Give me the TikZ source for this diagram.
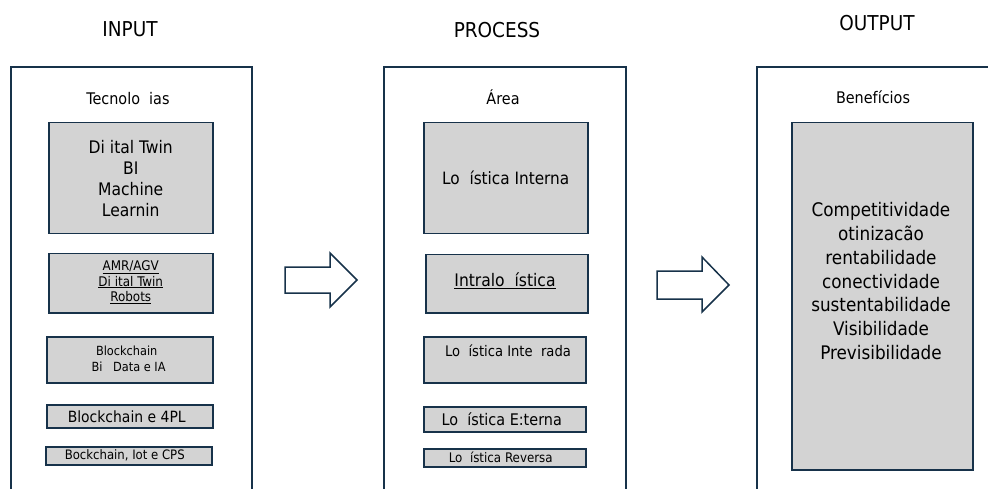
\documentclass[tikz,border=0pt]{standalone}
\usepackage{fontspec}
\setmainfont{DejaVu Sans Condensed}
\definecolor{navy}{HTML}{17324A}
\definecolor{boxgray}{HTML}{D3D3D3}
\tikzset{
  outer/.style={draw=navy, line width=1.5pt},
  gbox/.style={draw=navy, fill=boxgray, line width=1.5pt, rectangle, inner sep=0pt, align=center, anchor=north west},
  title/.style={font=\fontsize{20.5}{24}\selectfont, text=black},
  head/.style={font=\fontsize{16}{19}\selectfont, text=black},
  bigarrow/.style={draw=navy, fill=white, line width=1.5pt, line join=miter}
}
\begin{document}
\begin{tikzpicture}[x=1pt,y=-1pt]
\useasboundingbox (0,0) rectangle (988,489);
% titles
\node[title] (tin) at (130,29) {INPUT};
\node[title] (tpr) at (497,30) {PROCESS};
\node[title] (tout) at (877,23) {OUTPUT};
% outer frames (open at bottom)
\coordinate (l1) at (11,492); \coordinate (l2) at (11,67); \coordinate (l3) at (252,67); \coordinate (l4) at (252,492);
\draw[outer] (l1) -- (l2) -- (l3) -- (l4);
\coordinate (m1) at (384,492); \coordinate (m2) at (384,67); \coordinate (m3) at (626,67); \coordinate (m4) at (626,492);
\draw[outer] (m1) -- (m2) -- (m3) -- (m4);
\coordinate (r1) at (757,492); \coordinate (r2) at (757,67); \coordinate (r3) at (992,67);
\draw[outer] (r1) -- (r2) -- (r3);
% headings
\node[head] (htec) at (128,99) {Tecnolo\ \ ias};
\node[head] (hare) at (503,97) {Área};
\node[head] (hben) at (873,97) {Benefícios};
% input boxes
\node[gbox, minimum width=164pt, minimum height=111pt] (i1) at (48,122) {};
\node[font=\fontsize{17.3}{21}\selectfont, align=center] (i1t) at (i1.center) {Di\ ital Twin\\BI\\Machine\\Learnin};
\node[gbox, minimum width=164pt, minimum height=59pt] (i2) at (48,253) {};
\node[font=\fontsize{13.3}{15.5}\selectfont, align=center] (i2t) at ([yshift=1pt]i2.center) {\underline{AMR/AGV}\\\underline{Di\ ital Twin}\\\underline{Robots}};
\node[gbox, minimum width=166pt, minimum height=46pt] (i3) at (46,336) {};
\node[font=\fontsize{12.6}{16}\selectfont, align=center] (i3t) at ([xshift=-3pt,yshift=1pt]i3.center) {Blockchain\\\ Bi\ \ \ Data e IA};
\node[gbox, minimum width=166pt, minimum height=23pt] (i4) at (46,404) {};
\node[font=\fontsize{15.5}{17}\selectfont] (i4t) at ([xshift=-3pt]i4.center) {Blockchain e 4PL};
\node[gbox, minimum width=166pt, minimum height=18pt] (i5) at (45,446) {};
\node[font=\fontsize{13}{14}\selectfont] (i5t) at ([xshift=-4pt]i5.center) {Bockchain, Iot e CPS};
% process boxes
\node[gbox, minimum width=164pt, minimum height=111pt] (p1) at (423,122) {};
\node[font=\fontsize{17}{19}\selectfont] (p1t) at (p1.center) {Lo\ \ ística Interna};
\node[gbox, minimum width=162pt, minimum height=58pt] (p2) at (425,254) {};
\node[font=\fontsize{17.3}{19}\selectfont, anchor=center] (p2t) at (505,281) {\underline{Intralo\ \ ística}};
\node[gbox, minimum width=162pt, minimum height=46pt] (p3) at (423,336) {};
\node[font=\fontsize{14.6}{16}\selectfont] (p3t) at (508,351) {Lo\ \ ística Inte\ \ rada};
\node[gbox, minimum width=162pt, minimum height=25pt] (p4) at (423,406) {};
\node[font=\fontsize{16}{17}\selectfont] (p4t) at ([xshift=-3pt]p4.center) {Lo\ \ ística E:terna};
\node[gbox, minimum width=162pt, minimum height=18pt] (p5) at (423,448) {};
\node[font=\fontsize{13.2}{14}\selectfont] (p5t) at ([xshift=-4pt]p5.center) {Lo\ \ ística Reversa};
% output box
\node[gbox, minimum width=181pt, minimum height=347pt] (o1) at (791,122) {};
\node[font=\fontsize{18.7}{23.8}\selectfont, align=center, anchor=north] (o1t) at (881,199) {Competitividade\\otinizacão\\rentabilidade\\conectividade\\sustentabilidade\\Visibilidade\\Previsibilidade};
% arrows
\coordinate (a1) at (285,267); \coordinate (a2) at (330,267); \coordinate (a3) at (330,253);
\coordinate (a4) at (357,280); \coordinate (a5) at (330,307); \coordinate (a6) at (330,293);
\coordinate (a7) at (285,293);
\draw[bigarrow] (a1) -- (a2) -- (a3) -- (a4) -- (a5) -- (a6) -- (a7) -- cycle;
\coordinate (b1) at (657,271); \coordinate (b2) at (702,271); \coordinate (b3) at (702,257);
\coordinate (b4) at (729,285); \coordinate (b5) at (702,312); \coordinate (b6) at (702,299);
\coordinate (b7) at (657,299);
\draw[bigarrow] (b1) -- (b2) -- (b3) -- (b4) -- (b5) -- (b6) -- (b7) -- cycle;
\end{tikzpicture}
\end{document}
